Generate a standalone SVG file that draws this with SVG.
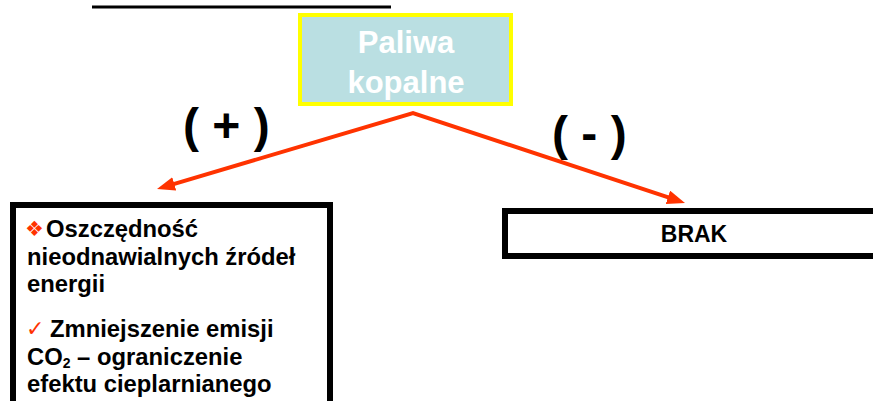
<svg xmlns="http://www.w3.org/2000/svg" width="873" height="401" viewBox="0 0 873 401">
  <style>
    .b { font-family: "Liberation Sans", Arial, sans-serif; font-weight: bold; }
    .frame { fill: #FFFFFF; stroke: #000000; stroke-width: 6; }
    .src { fill: #BADFE2; stroke: #FFFF00; stroke-width: 4; }
    .link { fill: none; stroke: #FF3300; stroke-width: 4; stroke-linejoin: miter; }
    .sym { font-family: "DejaVu Sans", sans-serif; fill: #FF3300; }
  </style>
  <defs>
    <marker id="head" markerUnits="userSpaceOnUse" markerWidth="20" markerHeight="16" refX="6" refY="7" orient="auto-start-reverse">
      <path d="M0,0 L18,7 L0,14 Z" fill="#FF3300"/>
    </marker>
  </defs>

  <rect width="873" height="401" fill="#FFFFFF"/>

  <!-- title underline (heading sits above the visible area) -->
  <rect x="92" y="5.5" width="299" height="3" fill="#000000"/>

  <g id="paliwa">
    <rect class="src" x="300" y="15" width="211" height="89"/>
    <text class="b" x="406" y="53" font-size="31" fill="#FFFFFF" text-anchor="middle">Paliwa</text>
    <text class="b" x="406" y="93" font-size="31" fill="#FFFFFF" text-anchor="middle">kopalne</text>
  </g>

  <g id="connectors">
    <path class="link" d="M168.5,185.6 L413,113 L673.6,199.2" marker-start="url(#head)" marker-end="url(#head)"/>
    <text class="b" x="183" y="142" font-size="48" fill="#000000">( + )</text>
    <text class="b" x="552" y="150" font-size="48" fill="#000000">( - )</text>
  </g>

  <g id="plusy">
    <rect class="frame" x="13" y="205" width="317" height="220"/>
    <text class="sym" x="25" y="236" font-size="21">❖</text>
    <text class="b" x="46" y="237" font-size="23.8">Oszczędność</text>
    <text class="b" x="27" y="265" font-size="23.8">nieodnawialnych źródeł</text>
    <text class="b" x="27" y="292" font-size="23.8">energii</text>
    <text class="sym" x="26" y="336" font-size="22">✓</text>
    <text class="b" x="50" y="337" font-size="23.8">Zmniejszenie emisji</text>
    <text class="b" x="27" y="365" font-size="23.8">CO<tspan font-size="14" dy="3">2</tspan><tspan dy="-3"> – ograniczenie</tspan></text>
    <text class="b" x="27" y="392" font-size="23.8">efektu cieplarnianego</text>
  </g>

  <g id="minusy">
    <rect class="frame" x="505" y="211" width="420" height="45"/>
    <text class="b" x="694" y="242" font-size="23" text-anchor="middle">BRAK</text>
  </g>
</svg>
